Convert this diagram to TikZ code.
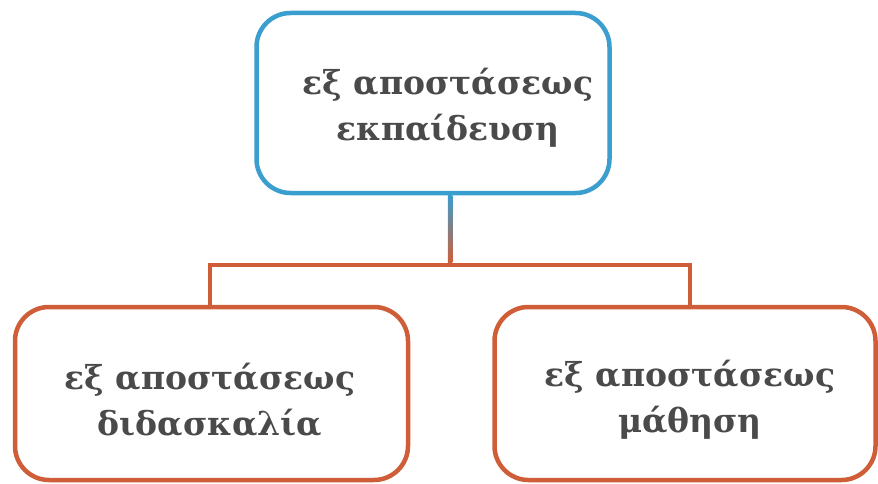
\documentclass[tikz,border=0pt]{standalone}
\usepackage{fontspec}
\setmainfont{DejaVu Serif}
\definecolor{boxblue}{HTML}{3A9ECF}
\definecolor{boxorange}{HTML}{CF5E38}
\definecolor{txtgray}{HTML}{4A4A4A}
\begin{document}
\begin{tikzpicture}[x=1pt,y=-1pt,
  box/.style={draw, line width=4.5pt, rounded corners=34pt, fill=white},
  label text/.style={text=txtgray, font=\fontsize{33}{46}\selectfont\bfseries, align=center},
  link/.style={draw=boxorange, line width=4.5pt}]
\useasboundingbox (0,0) rectangle (878,484);
\node[box, draw=boxblue, minimum width=353pt, minimum height=180pt] (top) at (433,103) {};
\node[label text] (toptext) at (448,108) {εξ αποστάσεως\\εκπαίδευση};
\node[box, draw=boxorange, minimum width=393pt, minimum height=173pt] (left) at (211.5,393.5) {};
\node[label text] (lefttext) at (210,400) {εξ αποστάσεως\\διδασκαλία};
\node[box, draw=boxorange, minimum width=381pt, minimum height=173pt] (right) at (685,393.5) {};
\node[label text] (righttext) at (690,400) {εξ αποστάσεως\\μάθηση};
\coordinate (hub) at (450,265);
\shade[top color=boxblue, bottom color=boxorange]
  ([xshift=-2.25pt]top.south -| hub) rectangle ([xshift=2.25pt,yshift=2.25pt]hub);
\draw[link] (left.north -| 210,0) |- (hub) -| (right.north -| 690,0);
\end{tikzpicture}
\end{document}
